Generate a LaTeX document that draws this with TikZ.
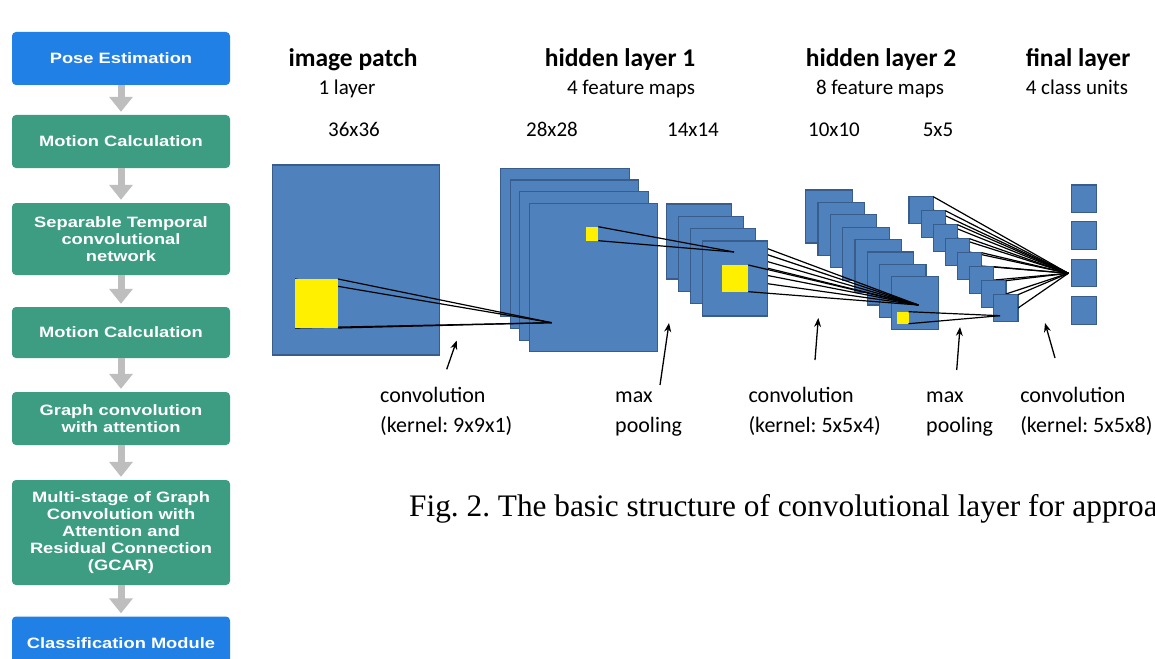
\documentclass[tikz,border=0pt]{standalone}
\usepackage{fontspec}
\setmainfont{Liberation Serif}
\newfontfamily\boxfont[FakeStretch=1.22]{Liberation Sans}
\newfontfamily\calfont{Carlito}
\usetikzlibrary{arrows.meta,calc}
\definecolor{flowblue}{RGB}{33,128,229}
\definecolor{flowgreen}{RGB}{60,157,131}
\definecolor{arrgray}{RGB}{190,190,190}
\definecolor{mapfill}{RGB}{79,129,189}
\definecolor{mapedge}{RGB}{56,93,140}
\definecolor{patchyellow}{RGB}{255,240,0}
\frenchspacing
\begin{document}
\begin{tikzpicture}[x=1pt,y=-1pt,
  flowbox/.style={rounded corners=4pt, text=white, minimum width=218pt, inner sep=0pt, align=center,
    font={\boxfont\bfseries\fontsize{15}{17}\selectfont}},
  flowarrow/.style={draw=arrgray, line width=7pt, -{Triangle[length=15pt,width=23pt]}, shorten >=3pt},
  fmap/.style={draw=mapedge, fill=mapfill, line width=1.2pt, inner sep=0pt, outer sep=0pt, anchor=north west},
  ypatch/.style={fill=patchyellow, draw=none, inner sep=0pt, outer sep=0pt, anchor=north west},
  conn/.style={draw=black, line width=1.2pt},
  pointer/.style={draw=black, line width=1.3pt, -{Stealth[length=9pt,width=7pt]}},
  ttl/.style={anchor=base, font={\calfont\bfseries\fontsize{25.5}{30}\selectfont}},
  sub/.style={anchor=base, font={\calfont\fontsize{21}{25}\selectfont}},
  lbl/.style={anchor=base west, font={\calfont\fontsize{22}{26}\selectfont}}
]
\useasboundingbox (0,0) rectangle (1155,658);
\fill[white] (0,0) rectangle (1155,658);
\clip (0,0) rectangle (1155,658);

% ---------------- left flowchart ----------------
\node[flowbox, fill=flowblue,  minimum height=53pt] (b1) at (121,58.5) {Pose Estimation};
\node[flowbox, fill=flowgreen, minimum height=53pt] (b2) at (121,141.5) {Motion Calculation};
\node[flowbox, fill=flowgreen, minimum height=72pt] (b3) at (121,239) {Separable Temporal\\convolutional\\network};
\node[flowbox, fill=flowgreen, minimum height=51pt] (b4) at (121,332.5) {Motion Calculation};
\node[flowbox, fill=flowgreen, minimum height=53pt] (b5) at (121,418.5) {Graph convolution\\with attention};
\node[flowbox, fill=flowgreen, minimum height=105pt] (b6) at (121,532.5) {Multi-stage of Graph\\Convolution with\\Attention and\\Residual Connection\\(GCAR)};
\node[flowbox, fill=flowblue,  minimum height=53pt] (b7) at (121,643) {Classification Module};
\draw[flowarrow] (b1.south) -- (b2.north);
\draw[flowarrow] (b2.south) -- (b3.north);
\draw[flowarrow] (b3.south) -- (b4.north);
\draw[flowarrow] (b4.south) -- (b5.north);
\draw[flowarrow] (b5.south) -- (b6.north);
\draw[flowarrow] (b6.south) -- (b7.north);

% ---------------- apex points ----------------
\coordinate (ap1) at (551.7,322.7);
\coordinate (ap2) at (734,252);
\coordinate (ap3) at (918.3,305);
\coordinate (ap4) at (1000,315.7);
\coordinate (ap5) at (1068.3,273.3);

% ---------------- hidden layer 2 (10x10) ----------------
\foreach \k in {0,...,7} {
  \node[fmap, minimum width=46.5pt, minimum height=53pt] (hb\k) at ({805.7+12.3*\k},{190+12.4*\k}) {};
}

% ---------------- pooled 5x5 maps ----------------
\foreach \k in {0,...,7} {
  \node[fmap, minimum width=24.3pt, minimum height=26.7pt] (q\k) at ({909+12.1*\k},{196.7+14*\k}) {};
  \draw[conn] (q\k.north east) -- (ap5);
  \draw[conn] (q\k.east) -- (ap5);
}

% ---------------- final layer ----------------
\node[fmap, minimum width=25pt, minimum height=27.5pt] (f1) at (1071.7,185) {};
\node[fmap, minimum width=25pt, minimum height=27.5pt] (f2) at (1071.7,221.7) {};
\node[fmap, minimum width=25pt, minimum height=27.5pt] (f3) at (1071.7,259.3) {};
\node[fmap, minimum width=25pt, minimum height=27.5pt] (f4) at (1071.7,296.7) {};

% ---------------- image patch ----------------
\node[fmap, minimum width=166.6pt, minimum height=190pt] (ip) at (272.7,165) {};

% ---------------- hidden layer 1 (28x28) ----------------
\foreach \k in {0,...,3} {
  \node[fmap, minimum width=128.5pt, minimum height=148.4pt] (ha\k) at ({500.7+9.5*\k},{168.3+11.7*\k}) {};
}
\node[ypatch, minimum width=12.3pt, minimum height=14pt] (hay) at (586,226.7) {};

% ---------------- pooled 14x14 maps ----------------
\foreach \k in {0,...,3} {
  \node[fmap, minimum width=65pt, minimum height=75pt] (pa\k) at ({666.7+12*\k},{204+12.3*\k}) {};
  \ifnum\k<3
    \draw[conn] ($(pa\k.north west)+(45.6,24)$) -- (ap3);
    \draw[conn] ($(pa\k.north west)+(45.6,50.7)$) -- (ap3);
  \fi
}
\node[ypatch, minimum width=26.6pt, minimum height=26.7pt] (pay) at (721.7,265) {};
\draw[conn] (pay.north east) -- (ap3);
\draw[conn] (pay.south east) -- (ap3);

% ---------------- image patch receptive field ----------------
\node[ypatch, minimum width=43pt, minimum height=49pt] (ipy) at (295,279) {};
\draw[conn] (ipy.north west) -- (ap1);
\draw[conn] (ipy.south west) -- (ap1);
\fill[patchyellow] (ipy.north west) rectangle (ipy.south east);
\draw[conn] (ipy.north east) -- (ap1);
\draw[conn] (ipy.south east) -- (ap1);

% ---------------- hidden 1 patch to pooled ----------------
\draw[conn] (hay.north east) -- (ap2);
\draw[conn] (hay.south east) -- (ap2);

% ---------------- hidden 2 patch to 5x5 ----------------
\node[ypatch, minimum width=12pt, minimum height=12pt] (hby) at (896.5,311.7) {};
\draw[conn] (hby.north east) -- (ap4);
\draw[conn] (hby.south east) -- (ap4);

% ---------------- header texts ----------------
\node[ttl] (t1) at (353,67) {image patch};
\node[ttl] (t2) at (620,67) {hidden layer 1};
\node[ttl] (t3) at (881,67) {hidden layer 2};
\node[ttl] (t4) at (1078,67) {final layer};
\node[sub] (s1) at (347,95) {1 layer};
\node[sub] (s2) at (631,95) {4 feature maps};
\node[sub] (s3) at (880,95) {8 feature maps};
\node[sub] (s4) at (1077,95) {4 class units};
\node[sub] (z1) at (354,136) {36x36};
\node[sub] (z2) at (552,136) {28x28};
\node[sub] (z3) at (693,136) {14x14};
\node[sub] (z4) at (834,136) {10x10};
\node[sub] (z5) at (938,136) {5x5};

% ---------------- operation labels and pointers ----------------
\coordinate (a1t) at (446.7,369.3);  \coordinate (a1h) at (456.7,340.5);
\coordinate (a2t) at (660,385);      \coordinate (a2h) at (669,323);
\coordinate (a3t) at (815,360);      \coordinate (a3h) at (818.3,318);
\coordinate (a4t) at (956.7,370);    \coordinate (a4h) at (960,327);
\coordinate (a5t) at (1055,358);     \coordinate (a5h) at (1045,323);
\draw[pointer] (a1t) -- (a1h);
\draw[pointer] (a2t) -- (a2h);
\draw[pointer] (a3t) -- (a3h);
\draw[pointer] (a4t) -- (a4h);
\draw[pointer] (a5t) -- (a5h);

\node[lbl] (l1a) at (376.7,402) {convolution};
\node[lbl] (l1b) at (376.7,432) {(kernel: 9x9x1)};
\node[lbl] (l2a) at (611.7,402) {max};
\node[lbl] (l2b) at (611.7,432) {pooling};
\node[lbl] (l3a) at (745,402) {convolution};
\node[lbl] (l3b) at (745,432) {(kernel: 5x5x4)};
\node[lbl] (l4a) at (922.7,402) {max};
\node[lbl] (l4b) at (922.7,432) {pooling};
\node[lbl] (l5a) at (1016.7,402) {convolution};
\node[lbl] (l5b) at (1016.7,432) {(kernel: 5x5x8)};

% ---------------- caption ----------------
\node[anchor=base west, inner sep=0pt, font={\fontsize{31.3}{37}\selectfont}] (cap) at (409,516)
  {Fig. 2. The basic structure of convolutional layer for approa};
\end{tikzpicture}
\end{document}
